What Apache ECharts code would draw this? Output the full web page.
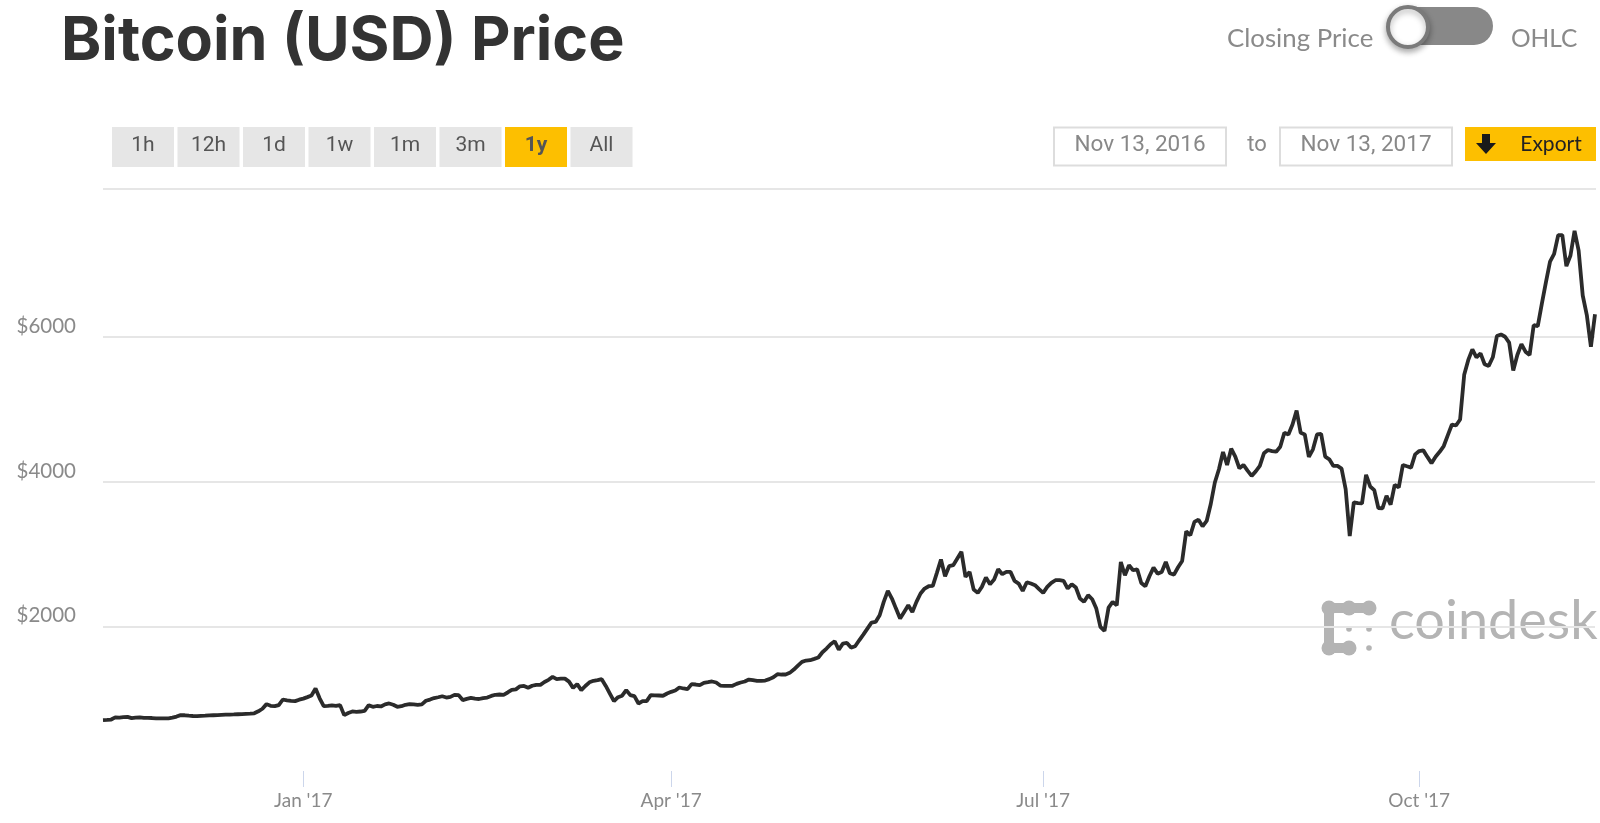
<!DOCTYPE html>
<html>
<head>
<meta charset="utf-8" />
<title>Bitcoin (USD) Price</title>
<script src="https://cdn.jsdelivr.net/npm/echarts@6/dist/echarts.min.js"></script>
<style>
  html, body { margin: 0; padding: 0; background: #fff; }
  #main { width: 1600px; height: 823px; }
</style>
</head>
<body>
<div id="main"></div>
<script type="text/javascript">
// closing price per day
var nov16 = [702,705,711,741,738,745,748,730,738,742,735,735,732,728,727,726,728,737];
var dec16 = [752,772,770,764,760,758,762,764,768,770,772,775,778,780,781,784,787,790,793,797,825,860,924,900,896,910,988,975,968,965,985];
var jan17 = [1000,1021,1043,1139,1005,896,900,906,899,910,772,802,823,818,822,831,910,887,898,892,921,933,915,887,895,915,924,921,914,921,970];
var feb17 = [987,1008,1019,1033,1015,1024,1052,1049,980,996,1010,1000,995,1008,1014,1037,1053,1057,1053,1085,1120,1128,1170,1175,1150,1178,1190,1190];
var mar17 = [1230,1260,1301,1270,1275,1276,1235,1149,1200,1117,1175,1225,1246,1255,1269,1175,1070,965,1020,1040,1117,1048,1034,933,965,965,1048,1045,1043,1040,1071];
var apr17 = [1094,1112,1154,1140,1131,1200,1195,1186,1218,1227,1237,1223,1181,1177,1177,1177,1204,1223,1237,1264,1255,1246,1246,1250,1269,1296,1338,1333,1333,1356];
var may17 = [1402,1457,1508,1526,1531,1549,1568,1641,1692,1752,1793,1678,1760,1770,1705,1723,1806,1885,1968,2051,2060,2152,2337,2489,2383,2244,2106,2198,2290,2198,2337];
var jun17 = [2452,2521,2553,2558,2738,2922,2691,2830,2844,2936,3028,2682,2751,2507,2461,2544,2673,2581,2645,2788,2719,2751,2751,2627,2590,2489,2608,2590,2567,2512];
var jul17 = [2461,2544,2599,2636,2636,2627,2521,2581,2535,2383,2337,2429,2373,2244,1991,1935,2258,2337,2290,2888,2704,2842,2774,2787,2598,2552,2690,2810,2727,2750,2888];
var aug17 = [2732,2714,2815,2902,3312,3257,3441,3473,3381,3455,3689,3986,4169,4407,4229,4453,4343,4183,4229,4150,4078,4140,4215,4389,4435,4420,4412,4481,4673,4650,4787];
var sep17 = [4979,4673,4650,4339,4444,4650,4659,4343,4307,4215,4215,4178,3895,3245,3712,3700,3698,4092,3931,3881,3634,3629,3803,3680,3954,3918,4229,4210,4192,4375];
var oct17 = [4421,4430,4340,4252,4343,4410,4490,4640,4787,4774,4856,5474,5680,5826,5716,5771,5620,5597,5716,6009,6032,6000,5918,5533,5748,5899,5794,5748,6160,6147,6458];
var nov17 = [6755,7039,7144,7405,7405,6975,7122,7464,7190,6570,6300,5860,6310];

var tickDates = ['2017-01-01','2017-04-01','2017-07-01','2017-10-01'];
var tickLabels = ["Jan '17","Apr '17","Jul '17","Oct '17"];
var rangeButtons = ['1h','12h','1d','1w','1m','3m','1y','All'];
var activeRange = '1y';

var prices = [].concat(nov16,dec16,jan17,feb17,mar17,apr17,may17,jun17,jul17,aug17,sep17,oct17,nov17);
var days = [];
for (var i = 0; i < prices.length; i++) {
    days.push(new Date(Date.UTC(2016, 10, 13 + i)).toISOString().slice(0, 10));
}

var uiFont = 'Lato';
var btnFont = 'Roboto';
var graphics = [];

function addText(txt, x, y, size, color, align, font, weight) {
    graphics.push({
        type: 'text', x: x, y: y,
        style: { text: txt, fontSize: size, fill: color, align: align || 'left', verticalAlign: 'middle',
                 fontFamily: font || uiFont, fontWeight: weight || 'normal' }
    });
}
function addBox(x, y, w, h, fill, stroke, lw, r) {
    graphics.push({
        type: 'rect', shape: { x: x, y: y, width: w, height: h, r: r || 0 },
        style: { fill: fill, stroke: stroke || null, lineWidth: lw || 0 }
    });
}

// range buttons
rangeButtons.forEach(function (b, k) {
    var x = 112 + k * 65.5;
    var on = b === activeRange;
    addBox(x, 127, 62, 40, on ? '#fdbf00' : '#e6e6e6');
    addText(b, x + 31, 146, 21, '#555', 'center', btnFont, on ? 'bold' : 'normal');
});

// closing price / ohlc switch
addText('Closing Price', 1227, 39, 25.8, '#8a8a8a');
addBox(1393, 7, 100, 38, '#888888', null, 0, 19);
graphics.push({
    type: 'circle', shape: { cx: 1408, cy: 27, r: 20 },
    style: { fill: '#fff', stroke: '#7a7a7a', lineWidth: 4, shadowBlur: 6, shadowOffsetY: 3, shadowColor: 'rgba(0,0,0,0.3)' }
});
addText('OHLC', 1511, 39, 24.5, '#8a8a8a');

// date range
addBox(1054, 127.5, 172, 38, '#fff', '#dddddd', 2);
addText('Nov 13, 2016', 1140, 145, 22.5, '#888', 'center', btnFont);
addText('to', 1257, 145, 22, '#888', 'center', btnFont);
addBox(1280, 127.5, 172, 38, '#fff', '#dddddd', 2);
addText('Nov 13, 2017', 1366, 145, 22.5, '#888', 'center', btnFont);

// export button
addBox(1465, 127, 131, 34, '#fdbf00');
graphics.push({
    type: 'polygon',
    shape: { points: [[1482,134],[1490,134],[1490,143],[1496,143],[1486,154],[1476,143],[1482,143]] },
    style: { fill: '#1a1a1a' }
});
addText('Export', 1551, 144, 21, '#222', 'center', uiFont);

// top rule of the plot
graphics.push({
    type: 'line', z: -1, shape: { x1: 103, y1: 189, x2: 1596, y2: 189 },
    style: { stroke: '#e6e6e6', lineWidth: 2 }
});

// coindesk watermark, sits under the grid lines
var logoGrey = '#b4b4b4';
var logoRows = [
    [[1329,608],[1349,608],[1369,608]],
    [[1329,608],[1329,622],[1329,635],[1329,648]],
    [[1329,648],[1349,648]]
];
var logoBig = [[1329,608],[1349,608],[1369,608],[1329,648],[1349,648]];
var logoSmall = [[1349,629],[1369,629],[1369,648]];
logoRows.forEach(function (pts) {
    graphics.push({ type: 'polyline', z: -1, shape: { points: pts }, style: { stroke: logoGrey, lineWidth: 10, fill: null } });
});
logoBig.forEach(function (p) {
    graphics.push({ type: 'circle', z: -1, shape: { cx: p[0], cy: p[1], r: 7.5 }, style: { fill: logoGrey } });
});
logoSmall.forEach(function (p) {
    graphics.push({ type: 'circle', z: -1, shape: { cx: p[0], cy: p[1], r: 2.8 }, style: { fill: logoGrey } });
});
graphics.push({
    type: 'text', z: -1, x: 1389, y: 622,
    style: { text: 'coindesk', fontSize: 54, fill: logoGrey, fontFamily: uiFont, verticalAlign: 'middle' }
});

var myChart = echarts.init(document.getElementById('main'));

function isTickDay(index, value) {
    return tickDates.indexOf(value) >= 0;
}

myChart.setOption({
    animation: false,
    backgroundColor: '#fff',
    title: {
        text: 'Bitcoin (USD) Price', left: 56, top: -1,
        padding: [5, 5, 5, 5],
        textStyle: { fontFamily: 'Inter', fontWeight: 'bold', fontSize: 61, color: '#333', lineHeight: 76 }
    },
    grid: { left: 103, top: 192, width: 1492, height: 579 },
    xAxis: {
        type: 'category',
        data: days,
        boundaryGap: false,
        offset: 2,
        axisLine: { show: false },
        axisTick: { show: true, interval: isTickDay, length: 16, lineStyle: { color: '#ccd6eb', width: 1 } },
        axisLabel: {
            interval: isTickDay, margin: 18, fontSize: 19, color: '#8a8a8a', fontFamily: uiFont,
            hideOverlap: false,
            formatter: function (v) { return tickLabels[tickDates.indexOf(v)]; }
        },
        splitLine: { show: false }
    },
    yAxis: {
        type: 'value', min: 0, max: 8000, interval: 2000,
        axisLine: { show: false },
        axisTick: { show: false },
        axisLabel: {
            margin: 27, fontSize: 20.5, color: '#8a8a8a', fontFamily: uiFont, verticalAlign: 'bottom',
            formatter: function (v) { return v > 0 && v < 8000 ? '$' + v : ''; }
        },
        splitLine: { show: true, showMinLine: false, showMaxLine: false, lineStyle: { color: '#e6e6e6', width: 2 } }
    },
    series: [{
        type: 'line',
        data: prices,
        showSymbol: false,
        symbol: 'none',
        lineStyle: { color: '#2b2b2b', width: 3.8 }
    }],
    graphic: { elements: graphics }
});
</script>
</body>
</html>
